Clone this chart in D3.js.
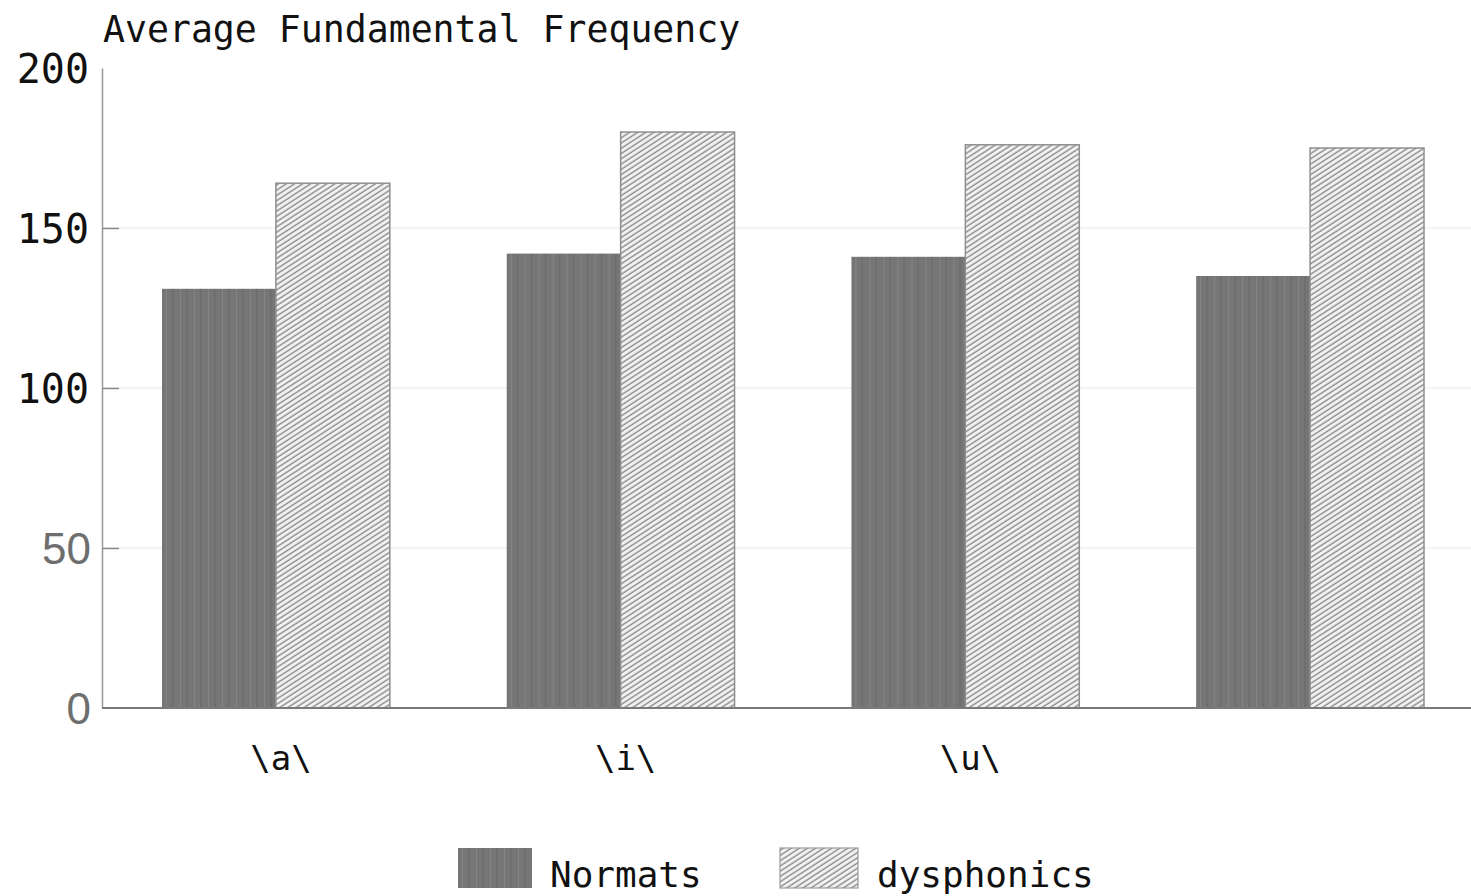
<!DOCTYPE html>
<html>
<head>
<meta charset="utf-8">
<script src="https://cdn.jsdelivr.net/npm/d3@7"></script>
<style>
  body { margin: 0; background: #fff; }
  svg { display: block; }
</style>
</head>
<body>
<div id="chart"></div>
<script>
// values
const categories = ["\\a\\", "\\i\\", "\\u\\", ""];
const series = ["Normats", "dysphonics"];
const normats = [131, 142, 141, 135];
const dysphonics = [164, 180, 176, 175];
const yTicks = [0, 50, 100, 150, 200];
const title = "Average Fundamental Frequency";

const width = 1471;
const height = 896;

const svg = d3.select("#chart")
    .append("svg")
    .attr("width", width)
    .attr("height", height);

// patterns for the two fills
const defs = svg.append("defs");

const solid = defs.append("pattern")
    .attr("id", "solid")
    .attr("patternUnits", "userSpaceOnUse")
    .attr("width", 14)
    .attr("height", 40);
solid.append("rect").attr("width", 14).attr("height", 40).attr("fill", "#767676");
solid.append("rect").attr("x", 4).attr("width", 1).attr("height", 40).attr("fill", "#858585");
solid.append("rect").attr("x", 10).attr("width", 1.5).attr("height", 40).attr("fill", "#6c6c6c");

const hatch = defs.append("pattern")
    .attr("id", "hatch")
    .attr("patternUnits", "userSpaceOnUse")
    .attr("width", 8)
    .attr("height", 4.4)
    .attr("patternTransform", "rotate(-33)");
hatch.append("rect").attr("width", 8).attr("height", 4.4).attr("fill", "#f3f3f3");
hatch.append("line")
    .attr("x1", 0).attr("x2", 8)
    .attr("y1", 2).attr("y2", 2)
    .attr("stroke", "#8a8a8a")
    .attr("stroke-width", 1.4);

const fills = { Normats: "url(#solid)", dysphonics: "url(#hatch)" };

// scales
const x0 = d3.scaleBand()
    .domain(categories)
    .range([102, 1484])
    .paddingInner(0.339)
    .paddingOuter(0.174);

const x1 = d3.scaleBand()
    .domain(series)
    .range([0, x0.bandwidth()]);

const y = d3.scaleLinear()
    .domain([0, 200])
    .range([708, 68]);

const rows = categories.map((c, i) => ({
    category: c,
    values: [
        { key: "Normats", value: normats[i] },
        { key: "dysphonics", value: dysphonics[i] }
    ]
}));

// faint grid lines
svg.append("g")
    .selectAll("line")
    .data([50, 100, 150])
    .enter()
    .append("line")
    .attr("x1", 102)
    .attr("x2", width)
    .attr("y1", d => y(d))
    .attr("y2", d => y(d))
    .attr("stroke", "#f1f1f1")
    .attr("stroke-width", 1.5);

// bars
const groups = svg.append("g")
    .selectAll("g")
    .data(rows)
    .enter()
    .append("g")
    .attr("transform", d => `translate(${x0(d.category)},0)`);

groups.selectAll("rect")
    .data(d => d.values)
    .enter()
    .append("rect")
    .attr("x", d => x1(d.key))
    .attr("y", d => y(d.value))
    .attr("width", x1.bandwidth())
    .attr("height", d => y(0) - y(d.value))
    .attr("fill", d => fills[d.key])
    .attr("stroke", d => d.key === "dysphonics" ? "#8f8f8f" : "none")
    .attr("stroke-width", 1.5);

// y axis
const yAxis = svg.append("g")
    .attr("transform", "translate(102,0)")
    .call(d3.axisLeft(y).tickValues(yTicks).tickSize(0).tickSizeOuter(0).tickPadding(12));

yAxis.select(".domain")
    .attr("stroke", "#999")
    .attr("stroke-width", 1.5);

yAxis.selectAll(".tick text")
    .attr("dy", "0.36em")
    .style("font-family", d => d >= 100 ? "'DejaVu Sans Mono', monospace" : "'Liberation Sans', Arial, sans-serif")
    .style("font-size", d => d >= 100 ? "40px" : "44px")
    .attr("fill", d => d >= 100 ? "#111" : "#6e6e6e")
    .attr("x", d => d >= 100 ? -13 : -11);

// inward tick marks
const yTickMarks = svg.append("g")
    .attr("transform", "translate(102,0)")
    .call(d3.axisRight(y).tickValues([50, 100, 150]).tickSize(17).tickFormat(""));
yTickMarks.select(".domain").remove();
yTickMarks.selectAll(".tick line")
    .attr("stroke", "#888")
    .attr("stroke-width", 1.5);

// x axis
const xAxis = svg.append("g")
    .attr("transform", "translate(0,708)")
    .call(d3.axisBottom(x0).tickSize(0).tickSizeOuter(0));

xAxis.select(".domain")
    .attr("d", `M102,0H${width}`)
    .attr("stroke", "#7a7a7a")
    .attr("stroke-width", 2);

xAxis.selectAll(".tick text")
    .attr("y", 62)
    .attr("dy", null)
    .attr("dx", 5)
    .attr("fill", "#111")
    .style("font-family", "'DejaVu Sans Mono', monospace")
    .style("font-size", "34px");

// title
svg.append("text")
    .attr("x", 103)
    .attr("y", 42)
    .attr("fill", "#111")
    .style("font-family", "'DejaVu Sans Mono', monospace")
    .style("font-size", "36.5px")
    .text(title);

// legend
const legendX = [458, 780];
const legend = svg.append("g")
    .selectAll("g")
    .data(series)
    .enter()
    .append("g")
    .attr("transform", (d, i) => `translate(${legendX[i]},848)`);

legend.append("rect")
    .attr("width", (d, i) => i === 0 ? 74 : 78)
    .attr("height", 40)
    .attr("fill", d => fills[d])
    .attr("stroke", d => d === "dysphonics" ? "#9a9a9a" : "none")
    .attr("stroke-width", 1.2);

legend.append("text")
    .attr("x", (d, i) => i === 0 ? 92 : 97)
    .attr("y", 39)
    .attr("fill", "#111")
    .style("font-family", "'DejaVu Sans Mono', monospace")
    .style("font-size", "36px")
    .text(d => d);
</script>
</body>
</html>
